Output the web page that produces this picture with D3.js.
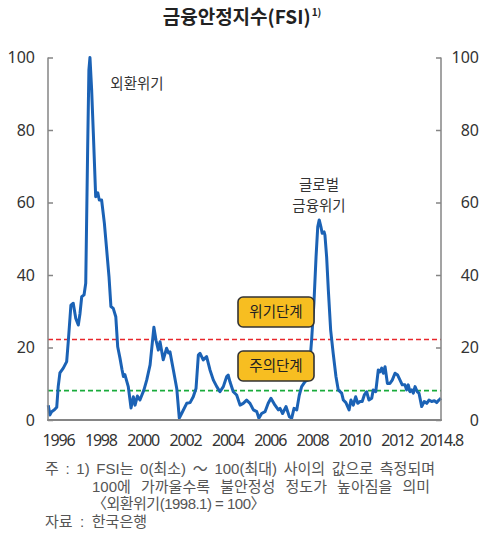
<!DOCTYPE html>
<html>
<head>
<meta charset="utf-8">
<script src="https://cdn.jsdelivr.net/npm/d3@7"></script>
<style>
  html, body { margin: 0; padding: 0; background: #fff; }
  svg { display: block; font-family: "Noto Sans CJK KR", "Noto Sans", sans-serif; }
</style>
</head>
<body>
<svg id="chart" width="485" height="547"></svg>
<script>
// Financial Stability Index (FSI), monthly, 1995.7 ~ 2014.8
const years = [
  1995.54, 1995.62, 1995.70, 1995.83, 1995.94, 1996.01, 1996.09, 1996.25, 1996.41, 1996.49,
  1996.61, 1996.72, 1996.84, 1996.96, 1997.04, 1997.12, 1997.23, 1997.31, 1997.40, 1997.46,
  1997.51, 1997.59, 1997.67, 1997.78, 1997.88, 1997.95, 1998.06, 1998.19, 1998.30, 1998.41,
  1998.50, 1998.61, 1998.73, 1998.82, 1998.93, 1999.02, 1999.09, 1999.16, 1999.32, 1999.45,
  1999.56, 1999.64, 1999.75, 1999.87, 2000.06, 2000.19, 2000.35, 2000.53, 2000.63, 2000.74,
  2000.82, 2000.97, 2001.13, 2001.22, 2001.29, 2001.45, 2001.61, 2001.73, 2001.84, 2002.08,
  2002.24, 2002.39, 2002.52, 2002.63, 2002.71, 2002.86, 2003.02, 2003.18, 2003.34, 2003.50,
  2003.65, 2003.81, 2003.97, 2004.04, 2004.12, 2004.28, 2004.44, 2004.60, 2004.75, 2004.91,
  2005.07, 2005.23, 2005.39, 2005.49, 2005.62, 2005.78, 2005.93, 2006.06, 2006.25, 2006.41,
  2006.49, 2006.61, 2006.77, 2006.93, 2007.04, 2007.15, 2007.28, 2007.40, 2007.51, 2007.67,
  2007.78, 2007.87, 2007.98, 2008.09, 2008.19, 2008.27, 2008.34, 2008.42, 2008.48, 2008.57,
  2008.61, 2008.69, 2008.77, 2008.88, 2009.00, 2009.13, 2009.24, 2009.40, 2009.48, 2009.60,
  2009.75, 2009.84, 2009.95, 2010.06, 2010.16, 2010.27, 2010.37, 2010.47, 2010.58, 2010.69,
  2010.82, 2010.89, 2011.01, 2011.13, 2011.21, 2011.29, 2011.37, 2011.45, 2011.56, 2011.68,
  2011.79, 2011.92, 2012.06, 2012.21, 2012.35, 2012.52, 2012.63, 2012.73, 2012.84, 2012.95,
  2013.05, 2013.16, 2013.30, 2013.41, 2013.58, 2013.74, 2013.90, 2014.04, 2014.21, 2014.38,
  2014.53, 2014.67, 2014.80
];
const fsi = [
  4.1, 1.4, 2.3, 2.8, 3.5, 9.2, 13.0, 14.3, 16.1, 22.0,
  31.7, 32.2, 28.0, 26.2, 29.4, 34.0, 34.5, 37.7, 74.5, 96.6,
  100.0, 91.0, 79.0, 61.6, 62.7, 60.7, 60.7, 54.3, 46.9, 39.5,
  31.3, 30.8, 28.5, 20.2, 17.0, 14.0, 12.0, 12.5, 9.2, 3.3,
  6.4, 4.1, 6.6, 5.5, 8.3, 11.0, 15.2, 25.6, 22.0, 19.3,
  21.6, 16.6, 19.8, 18.5, 18.8, 13.8, 8.7, 0.5, 1.8, 4.6,
  4.8, 6.4, 8.7, 17.9, 18.4, 16.6, 17.5, 13.8, 11.0, 9.2,
  7.8, 9.2, 12.0, 12.4, 10.6, 7.8, 6.9, 4.1, 4.6, 5.5,
  4.6, 2.8, 2.3, 0.5, 1.8, 2.3, 4.6, 6.0, 4.1, 2.8,
  3.2, 1.8, 3.7, 0.9, 0.5, 3.2, 2.8, 6.9, 9.2, 10.6,
  11.0, 13.8, 22.0, 32.2, 45.0, 53.3, 55.2, 53.3, 51.5, 51.9,
  51.0, 45.0, 35.9, 24.8, 18.4, 12.0, 8.3, 7.4, 5.5, 4.8,
  2.8, 5.5, 4.1, 6.4, 4.6, 5.1, 5.1, 6.9, 7.8, 5.5,
  6.0, 8.3, 7.8, 13.8, 13.3, 14.3, 12.9, 14.7, 10.1, 10.1,
  11.0, 12.9, 12.4, 11.0, 9.7, 9.7, 8.3, 9.7, 7.8, 8.3,
  7.4, 9.2, 7.8, 7.4, 3.7, 5.1, 4.6, 5.5, 5.1, 5.3,
  4.8, 5.5, 6.0
];

// Axis ticks
const yTicks = [0, 20, 40, 60, 80, 100];
const xTickValues = [1996, 1998, 2000, 2002, 2004, 2006, 2008, 2010, 2012, 2014.8];
const xTickLabels = ["1996", "1998", "2000", "2002", "2004", "2006", "2008", "2010", "2012", "2014.8"];

// Threshold levels
const levelNames = ["주의단계", "위기단계"];
const levelValues = [8.1, 22.2];

// Event annotations
const eventNames = [["외환위기"], ["글로벌", "금융위기"]];

const titleText = "금융안정지수(FSI)";
const titleNote = "1)";
const footnotes = [
  "주 : 1) FSI는 0(최소) ～ 100(최대) 사이의 값으로 측정되며",
  "100에 가까울수록 불안정성 정도가 높아짐을 의미",
  "〈외환위기(1998.1) = 100〉",
  "자료 : 한국은행"
];

const svg = d3.select("#chart");
const plotLeft = 48, plotRight = 441, plotTop = 57.5, plotBottom = 420;

// the last label (2014.8) closes the axis, so the scale is piecewise
const x = d3.scaleLinear().domain([1996, 2012, 2014.8]).range([58, 396.7, plotRight]);
const y = d3.scaleLinear().domain([0, 100]).range([plotBottom, plotTop]);

const axisColor = "#858585";
const textColor = "#333";

// title
const title = svg.append("text")
  .attr("x", 242).attr("y", 24)
  .attr("text-anchor", "middle")
  .attr("font-size", 19).attr("font-weight", 700)
  .attr("fill", "#222");
title.append("tspan").text(titleText);
title.append("tspan").text(titleNote)
  .attr("font-size", 10).attr("dy", -8).attr("dx", 1);

// threshold lines
const levelColors = ["#1aab3c", "#e8262b"];
svg.append("g").selectAll("line").data(levelValues).join("line")
  .attr("x1", plotLeft).attr("x2", plotRight)
  .attr("y1", d => y(d)).attr("y2", d => y(d))
  .attr("stroke", (d, i) => levelColors[i])
  .attr("stroke-width", 1.6)
  .attr("stroke-dasharray", "5,3");

// FSI line
const line = d3.line().x((d, i) => x(years[i])).y(d => y(d));
svg.append("path")
  .datum(fsi)
  .attr("d", line)
  .attr("fill", "none")
  .attr("stroke", "#1b62b5")
  .attr("stroke-width", 3)
  .attr("stroke-linejoin", "round");

// axes
const leftAxis = svg.append("g").attr("transform", `translate(${plotLeft},0)`)
  .call(d3.axisLeft(y).tickValues(yTicks).tickSizeInner(-5).tickSizeOuter(0).tickPadding(13));
const rightAxis = svg.append("g").attr("transform", `translate(${plotRight},0)`)
  .call(d3.axisRight(y).tickValues(yTicks).tickSizeInner(-5).tickSizeOuter(0).tickPadding(38));
rightAxis.selectAll("text").attr("text-anchor", "end");
const bottomAxis = svg.append("g").attr("transform", `translate(0,${plotBottom})`)
  .call(d3.axisBottom(x).tickValues(xTickValues).tickSize(0).tickPadding(15)
    .tickFormat((d, i) => xTickLabels[i]));

[leftAxis, rightAxis, bottomAxis].forEach(g => {
  g.select(".domain").remove();
  g.selectAll("line").attr("stroke", axisColor).attr("stroke-width", 1.5);
  g.selectAll("text").attr("fill", textColor).attr("font-family", "'Noto Sans', sans-serif");
});
leftAxis.selectAll("text").attr("font-size", 16);
rightAxis.selectAll("text").attr("font-size", 16);
bottomAxis.selectAll("text").attr("font-size", 16).attr("letter-spacing", -1.2);

// axis frame lines
svg.append("line").attr("x1", plotLeft).attr("x2", plotLeft).attr("y1", plotTop).attr("y2", plotBottom + 1)
  .attr("stroke", axisColor).attr("stroke-width", 1.5);
svg.append("line").attr("x1", plotRight).attr("x2", plotRight).attr("y1", plotTop).attr("y2", plotBottom + 1)
  .attr("stroke", axisColor).attr("stroke-width", 1.5);
svg.append("line").attr("x1", plotLeft - 0.75).attr("x2", plotRight + 0.75).attr("y1", plotBottom).attr("y2", plotBottom)
  .attr("stroke", axisColor).attr("stroke-width", 2);

// threshold labels
const boxW = 76, boxH = 30, boxCx = 276;
const levelBoxY = [351, 297];
const boxes = svg.append("g").selectAll("g").data(levelNames).join("g")
  .attr("transform", (d, i) => `translate(${boxCx - boxW / 2},${levelBoxY[i]})`);
boxes.append("rect")
  .attr("width", boxW).attr("height", boxH).attr("rx", 5)
  .attr("fill", "#f7be21").attr("stroke", "#333").attr("stroke-width", 1.6);
boxes.append("text")
  .attr("x", boxW / 2).attr("y", boxH / 2 + 5)
  .attr("text-anchor", "middle").attr("font-size", 14.5).attr("fill", "#222")
  .text(d => d);

// event annotations
const eventPos = [[137, 89], [319, 190]];
svg.append("g").selectAll("text").data(eventNames).join("text")
  .attr("x", (d, i) => eventPos[i][0]).attr("y", (d, i) => eventPos[i][1])
  .attr("text-anchor", "middle").attr("font-size", 14.5).attr("fill", "#333")
  .each(function (d) {
    d3.select(this).selectAll("tspan").data(d).join("tspan")
      .attr("x", d3.select(this).attr("x"))
      .attr("dy", (t, j) => j === 0 ? 0 : 21)
      .text(t => t);
  });

// footnotes: widen word gaps so each line fills its measure
const noteX = [45, 92, 92, 45];
const noteY = [474, 492, 509, 527];
const noteRight = [435, 433, 265, 147];
svg.append("g").selectAll("text").data(footnotes).join("text")
  .attr("x", (d, i) => noteX[i]).attr("y", (d, i) => noteY[i])
  .attr("font-family", "'Liberation Sans', 'Noto Sans CJK KR', sans-serif")
  .attr("font-size", 15).attr("fill", "#555")
  .text(d => d)
  .each(function (d, i) {
    const natural = this.getComputedTextLength();
    const spaces = (d.match(/ /g) || []).length;
    const extra = (noteRight[i] - noteX[i]) - natural;
    if (spaces > 0) {
      if (extra > 0) d3.select(this).attr("word-spacing", Math.min(extra / spaces, 6));
      else d3.select(this).attr("letter-spacing", extra / d.length);
    }
  });
</script>
</body>
</html>
